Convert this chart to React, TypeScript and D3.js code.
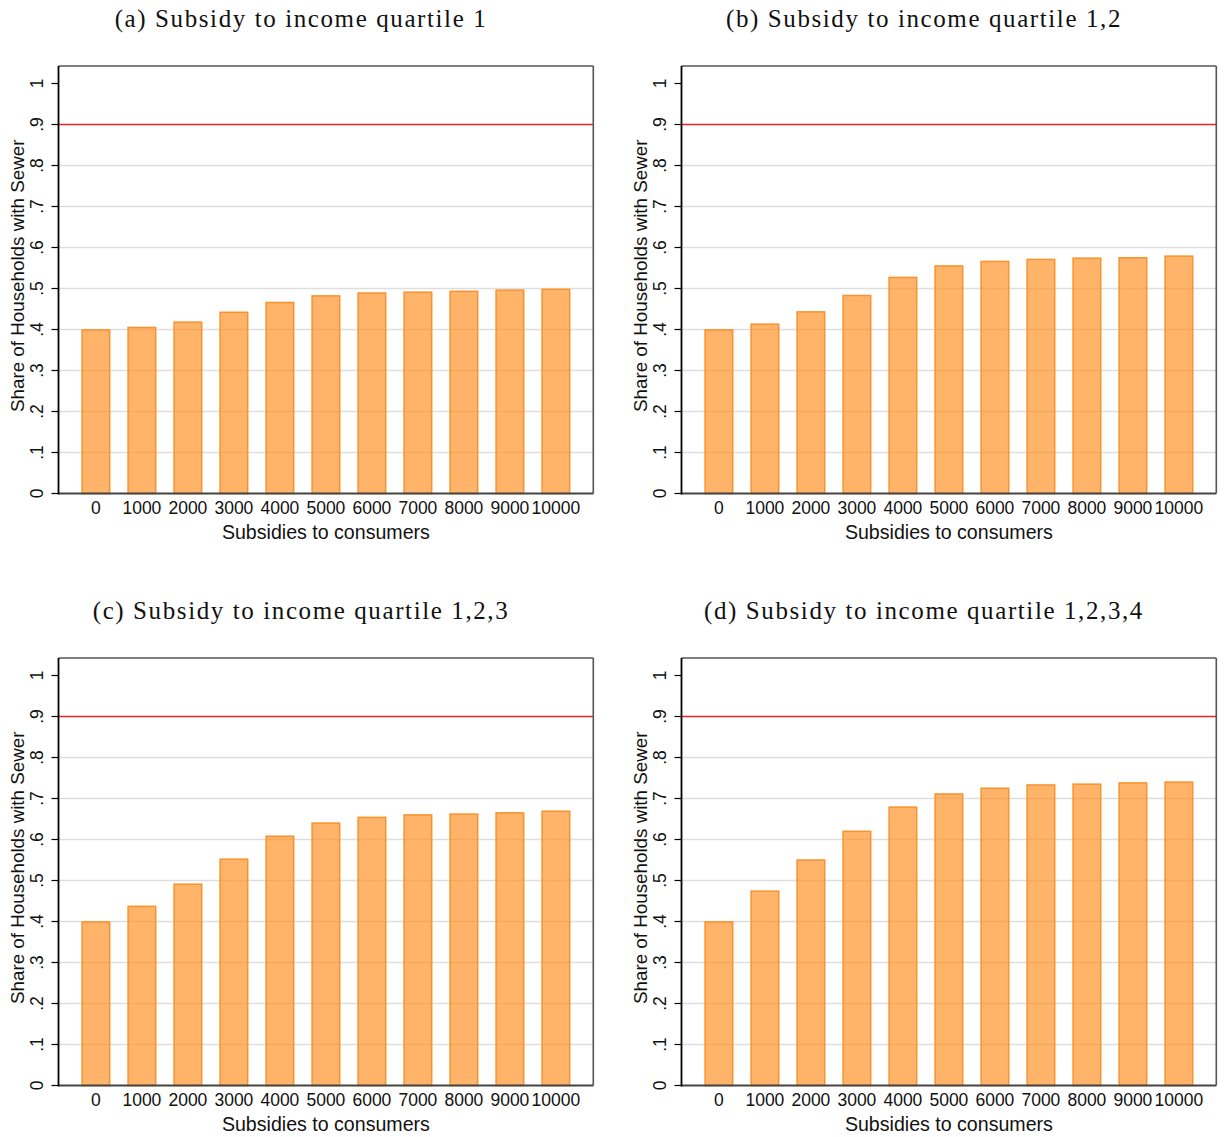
import React from "react";
import * as d3 from "d3";

const subsidies = [0, 1000, 2000, 3000, 4000, 5000, 6000, 7000, 8000, 9000, 10000];
const yTicks = [0, 0.1, 0.2, 0.3, 0.4, 0.5, 0.6, 0.7, 0.8, 0.9, 1];
const yTickLabels = ["0", ".1", ".2", ".3", ".4", ".5", ".6", ".7", ".8", ".9", "1"];
const gridValues = [0.1, 0.2, 0.3, 0.4, 0.5, 0.6, 0.7, 0.8];
const targetShare = 0.9;

const shareQ1 = [0.399, 0.405, 0.418, 0.442, 0.466, 0.482, 0.489, 0.491, 0.493, 0.496, 0.498];
const shareQ12 = [0.399, 0.413, 0.443, 0.483, 0.527, 0.555, 0.566, 0.571, 0.574, 0.575, 0.579];
const shareQ123 = [0.399, 0.437, 0.491, 0.552, 0.608, 0.640, 0.654, 0.660, 0.662, 0.665, 0.669];
const shareQ1234 = [0.399, 0.474, 0.550, 0.620, 0.679, 0.711, 0.725, 0.733, 0.735, 0.738, 0.740];

const panelTitles = [
  "(a) Subsidy to income quartile 1",
  "(b) Subsidy to income quartile 1,2",
  "(c) Subsidy to income quartile 1,2,3",
  "(d) Subsidy to income quartile 1,2,3,4",
];
const panelSeries = [shareQ1, shareQ12, shareQ123, shareQ1234];
const xTitle = "Subsidies to consumers";
const yTitle = "Share of Households with Sewer";

const W = 1225;
const H = 1137;
const PLOT_L = 58.5;
const PLOT_R = 593.3;
const PLOT_T = 66;
const PLOT_B = 493.5;
const DX = 623;
const DY = 592;
const SANS = "Liberation Sans, Arial, Helvetica, sans-serif";
const SERIF = "Liberation Serif, DejaVu Serif, serif";

function Panel({ values, title, ox, oy }: { values: number[]; title: string; ox: number; oy: number }) {
  const x = d3.scaleLinear().domain([-813, 10813]).range([PLOT_L, PLOT_R]);
  const y = d3.scaleLinear().domain([0, 1.0427]).range([PLOT_B, PLOT_T]);
  const bw = x(600) - x(0);
  const cx = (PLOT_L + PLOT_R) / 2;
  return (
    <g transform={`translate(${ox},${oy})`}>
      <text
        x={301}
        y={27}
        textAnchor="middle"
        fontFamily={SERIF}
        fontSize={25}
        letterSpacing={1.6}
        fill="#111"
      >
        {title}
      </text>
      {gridValues.map((v) => (
        <line key={"g" + v} x1={PLOT_L} x2={PLOT_R} y1={y(v)} y2={y(v)} stroke="#dedede" strokeWidth={1.6} />
      ))}
      {values.map((v, i) => (
        <rect
          key={"b" + i}
          x={x(subsidies[i]) - bw / 2}
          y={y(v)}
          width={bw}
          height={y(0) - y(v)}
          fill="#ff8c1a"
          fillOpacity={0.65}
          stroke="#f7922e"
          strokeWidth={1.5}
        />
      ))}
      <line x1={PLOT_L} x2={PLOT_R} y1={y(targetShare)} y2={y(targetShare)} stroke="#f02020" strokeWidth={1.4} />
      <line x1={PLOT_L} x2={PLOT_R} y1={PLOT_T} y2={PLOT_T} stroke="#555" strokeWidth={1.6} />
      <line x1={PLOT_R} x2={PLOT_R} y1={PLOT_T} y2={PLOT_B} stroke="#555" strokeWidth={1.6} />
      <line x1={PLOT_L} x2={PLOT_R} y1={PLOT_B} y2={PLOT_B} stroke="#444" strokeWidth={1.8} />
      <line x1={PLOT_L} x2={PLOT_L} y1={PLOT_T} y2={PLOT_B + 0.9} stroke="#000" strokeWidth={1.8} />
      {yTicks.map((v, i) => (
        <g key={"t" + i}>
          <line x1={PLOT_L - 7} x2={PLOT_L} y1={y(v)} y2={y(v)} stroke="#000" strokeWidth={1.2} />
          <text
            transform={`translate(43,${y(v)}) rotate(-90)`}
            textAnchor="middle"
            fontFamily={SANS}
            fontSize={17.5}
            fill="#111"
          >
            {yTickLabels[i]}
          </text>
        </g>
      ))}
      {subsidies.map((s) => (
        <text key={"x" + s} x={x(s)} y={514} textAnchor="middle" fontFamily={SANS} fontSize={17.5} fill="#111">
          {String(s)}
        </text>
      ))}
      <text x={cx} y={539} textAnchor="middle" fontFamily={SANS} fontSize={19.6} fill="#111">
        {xTitle}
      </text>
      <text
        transform={`translate(23.5,${(PLOT_T + PLOT_B) / 2 - 4}) rotate(-90)`}
        textAnchor="middle"
        fontFamily={SANS}
        fontSize={18.8}
        fill="#111"
      >
        {yTitle}
      </text>
    </g>
  );
}

export default function App() {
  return (
    <svg
      width={W}
      height={H}
      viewBox={`0 0 ${W} ${H}`}
      style={{ position: "absolute", left: 0, top: 0, display: "block", background: "#fff" }}
    >
      <rect x={0} y={0} width={W} height={H} fill="#fff" />
      {panelSeries.map((vals, i) => (
        <Panel key={i} values={vals} title={panelTitles[i]} ox={(i % 2) * DX} oy={Math.floor(i / 2) * DY} />
      ))}
    </svg>
  );
}
